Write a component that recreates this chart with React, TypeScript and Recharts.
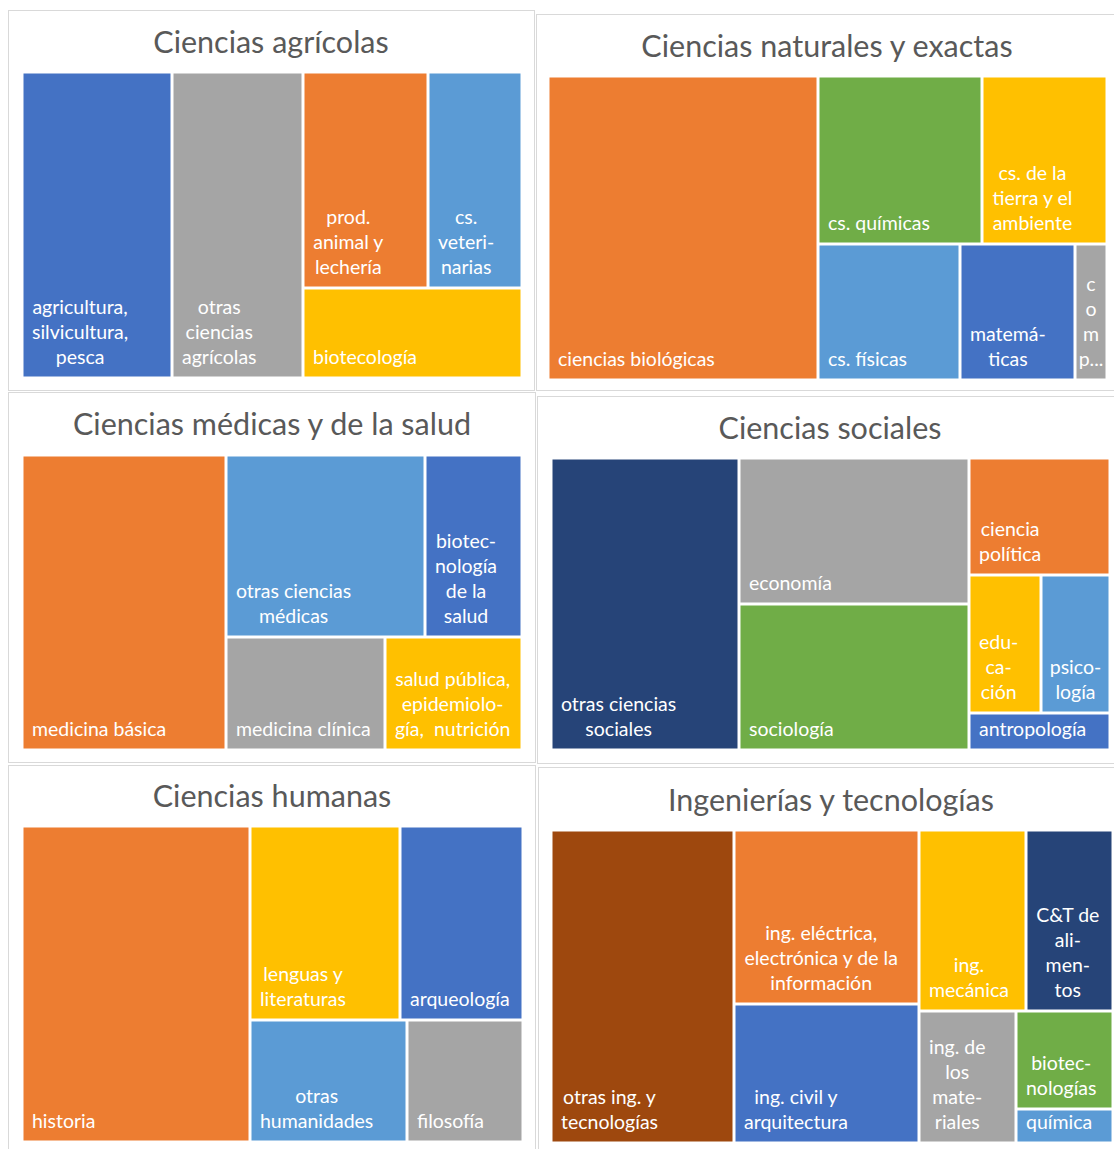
import React from 'react';
import { Treemap } from 'recharts';

type Spec = number | Spec[];

// ---------- Ciencias agrícolas ----------
const agriNames = ['agricultura, silvicultura, pesca', 'otras ciencias agrícolas', 'prod. animal y lechería', 'cs. veterinarias', 'biotecología'];
const agriLabels = [['agricultura,', 'silvicultura,', 'pesca'], ['otras', 'ciencias', 'agrícolas'], ['prod.', 'animal y', 'lechería'], ['cs.', 'veteri-', 'narias'], ['biotecología']];
const agriValues = [453, 394, 266, 199, 194];
const agriColors = ['#4472C4', '#A5A5A5', '#ED7D31', '#5B9BD5', '#FFC000'];
const agriTree: Spec[] = [0, [1, [[2, 3], 4]]];

// ---------- Ciencias naturales y exactas ----------
const natNames = ['ciencias biológicas', 'cs. químicas', 'cs. de la tierra y el ambiente', 'cs. físicas', 'matemáticas', 'computación'];
const natLabels = [['ciencias biológicas'], ['cs. químicas'], ['cs. de la', 'tierra y el', 'ambiente'], ['cs. físicas'], ['matemá-', 'ticas'], ['c', 'o', 'm', 'p...']];
const natValues = [807, 272, 206, 190, 155, 43];
const natColors = ['#ED7D31', '#70AD47', '#FFC000', '#5B9BD5', '#4472C4', '#A5A5A5'];
const natTree: Spec[] = [0, [[1, 2], [3, [4, 5]]]];

// ---------- Ciencias médicas y de la salud ----------
const medNames = ['medicina básica', 'otras ciencias médicas', 'biotecnología de la salud', 'medicina clínica', 'salud pública, epidemiología, nutrición'];
const medLabels = [['medicina básica'], ['otras ciencias', 'médicas'], ['biotec-', 'nología', 'de la', 'salud'], ['medicina clínica'], ['salud pública,', 'epidemiolo-', 'gía,  nutrición']];
const medValues = [592, 356, 174, 176, 152];
const medColors = ['#ED7D31', '#5B9BD5', '#4472C4', '#A5A5A5', '#FFC000'];
const medTree: Spec[] = [0, [[1, 2], [3, 4]]];

// ---------- Ciencias sociales ----------
const socNames = ['otras ciencias sociales', 'economía', 'sociología', 'ciencia política', 'educación', 'psicología', 'antropología'];
const socLabels = [['otras ciencias', 'sociales'], ['economía'], ['sociología'], ['ciencia', 'política'], ['edu-', 'ca-', 'ción'], ['psico-', 'logía'], ['antropología']];
const socValues = [540, 330, 330, 163, 97, 94, 52];
const socColors = ['#264478', '#A5A5A5', '#70AD47', '#ED7D31', '#FFC000', '#5B9BD5', '#4472C4'];
const socTree: Spec[] = [0, [[1, 2], [3, [[4, 5], 6]]]];

// ---------- Ciencias humanas ----------
const humNames = ['historia', 'lenguas y literaturas', 'arqueología', 'otras humanidades', 'filosofía'];
const humLabels = [['historia'], ['lenguas y', 'literaturas'], ['arqueología'], ['otras', 'humanidades'], ['filosofía']];
const humValues = [708, 286, 235, 189, 140];
const humColors = ['#ED7D31', '#FFC000', '#4472C4', '#5B9BD5', '#A5A5A5'];
const humTree: Spec[] = [0, [[1, 2], [3, 4]]];

// ---------- Ingenierías y tecnologías ----------
const ingNames = ['otras ing. y tecnologías', 'ing. eléctrica, electrónica y de la información', 'ing. civil y arquitectura', 'ing. mecánica', 'C&T de alimentos', 'ing. de los materiales', 'biotecnologías', 'química'];
const ingLabels = [['otras ing. y', 'tecnologías'], ['ing. eléctrica,', 'electrónica y de la', 'información'], ['ing. civil y', 'arquitectura'], ['ing.', 'mecánica'], ['C&T de', 'ali-', 'men-', 'tos'], ['ing. de', 'los', 'mate-', 'riales'], ['biotec-', 'nologías'], ['química']];
const ingValues = [564, 317, 254, 191, 155, 126, 94, 33];
const ingColors = ['#9E480E', '#ED7D31', '#4472C4', '#FFC000', '#264478', '#A5A5A5', '#70AD47', '#5B9BD5'];
const ingTree: Spec[] = [0, [[1, 2], [[3, 4], [5, [6, 7]]]]];

const LABEL_FONT = 'Lato';
const LABEL_SIZE = 19.5;
const LINE_H = 25;
const TITLE_SIZE = 30.5;

interface Box { x: number; y: number; w: number; h: number }
interface PanelDef {
  title: string;
  names: string[];
  labels: string[][];
  values: number[];
  colors: string[];
  tree: Spec[];
  ratio: number;
  box: Box;
  map: Box;
  titleX: number;
  titleY: number;
}

const panels: PanelDef[] = [
  { title: 'Ciencias agrícolas', names: agriNames, labels: agriLabels, values: agriValues, colors: agriColors, tree: agriTree, ratio: 0.01,
    box: { x: 8, y: 10, w: 527, h: 381 }, map: { x: 23, y: 73, w: 497, h: 303 }, titleX: 271, titleY: 53 },
  { title: 'Ciencias naturales y exactas', names: natNames, labels: natLabels, values: natValues, colors: natColors, tree: natTree, ratio: 0.01,
    box: { x: 536, y: 14, w: 600, h: 377 }, map: { x: 549, y: 77, w: 556, h: 301 }, titleX: 827, titleY: 57 },
  { title: 'Ciencias médicas y de la salud', names: medNames, labels: medLabels, values: medValues, colors: medColors, tree: medTree, ratio: 1.5,
    box: { x: 8, y: 392, w: 528, h: 371 }, map: { x: 23, y: 456, w: 497, h: 292 }, titleX: 272, titleY: 435 },
  { title: 'Ciencias sociales', names: socNames, labels: socLabels, values: socValues, colors: socColors, tree: socTree, ratio: 0.01,
    box: { x: 537, y: 396, w: 600, h: 368 }, map: { x: 552, y: 459, w: 556, h: 289 }, titleX: 830, titleY: 439 },
  { title: 'Ciencias humanas', names: humNames, labels: humLabels, values: humValues, colors: humColors, tree: humTree, ratio: 0.01,
    box: { x: 8, y: 765, w: 528, h: 400 }, map: { x: 23, y: 827, w: 498, h: 313 }, titleX: 272, titleY: 807 },
  { title: 'Ingenierías y tecnologías', names: ingNames, labels: ingLabels, values: ingValues, colors: ingColors, tree: ingTree, ratio: 0.01,
    box: { x: 538, y: 767, w: 600, h: 400 }, map: { x: 552, y: 831, w: 559, h: 310 }, titleX: 831, titleY: 811 },
];

let measureCtx: CanvasRenderingContext2D | null = null;
function textWidth(t: string, size: number): number {
  if (!measureCtx) {
    const c = document.createElement('canvas');
    measureCtx = c.getContext('2d');
  }
  if (!measureCtx) return t.length * size * 0.5;
  measureCtx.font = `${size}px ${LABEL_FONT}`;
  return measureCtx.measureText(t).width;
}

function buildNode(spec: Spec, p: PanelDef, key: string): any {
  if (typeof spec === 'number') {
    return { name: p.names[spec], value: p.values[spec], idx: spec };
  }
  return { name: key, children: spec.map((s, i) => buildNode(s, p, key + '-' + i)) };
}

function TreemapPanel({ p }: { p: PanelDef }) {
  const data = p.tree.map((s, i) => buildNode(s, p, 'g' + i));
  const renderCell = (props: any) => {
    const { x, y, width, height, name, children } = props;
    const i = typeof props.idx === 'number' ? props.idx : p.names.indexOf(name);
    if (i < 0 || (children && children.length)) return <g />;
    const rx = x + 1.5;
    const ry = y + 1.5;
    const rw = Math.max(0, width - 3);
    const rh = Math.max(0, height - 3);
    const lines = p.labels[i];
    const widths = lines.map((l) => textWidth(l, LABEL_SIZE));
    const bw = Math.max(...widths);
    const left = rx + Math.min(8.5, Math.max(0, (rw - bw) / 2));
    const cx = left + bw / 2;
    const lastBase = ry + rh - 13;
    return (
      <g>
        <rect x={rx} y={ry} width={rw} height={rh} fill={p.colors[i]} />
        {lines.map((l, k) => (
          <text
            key={k}
            x={cx}
            y={lastBase - (lines.length - 1 - k) * LINE_H}
            textAnchor="middle"
            fill="#ffffff"
            fontFamily={LABEL_FONT}
            fontSize={LABEL_SIZE}
            style={{ whiteSpace: 'pre' }}
          >
            {l}
          </text>
        ))}
      </g>
    );
  };
  return (
    <div style={{ position: 'absolute', left: p.map.x - 1.5, top: p.map.y - 1.5 }}>
      <Treemap
        width={p.map.w + 3}
        height={p.map.h + 3}
        data={data}
        dataKey="value"
        nameKey="name"
        aspectRatio={p.ratio}
        isAnimationActive={false}
        content={renderCell}
      />
    </div>
  );
}

export default function App() {
  return (
    <div style={{ position: 'absolute', left: 0, top: 0, width: 1114, height: 1149, overflow: 'hidden', background: '#ffffff' }}>
      {panels.map((p, i) => (
        <div
          key={'b' + i}
          style={{
            position: 'absolute',
            left: p.box.x,
            top: p.box.y,
            width: p.box.w,
            height: p.box.h,
            border: '1px solid #d9d9d9',
            boxSizing: 'border-box',
          }}
        />
      ))}
      <svg width={1114} height={1149} style={{ position: 'absolute', left: 0, top: 0 }}>
        {panels.map((p, i) => (
          <text key={'t' + i} x={p.titleX} y={p.titleY} textAnchor="middle" fill="#595959" fontFamily={LABEL_FONT} fontSize={TITLE_SIZE}>
            {p.title}
          </text>
        ))}
      </svg>
      {panels.map((p, i) => (
        <TreemapPanel key={'m' + i} p={p} />
      ))}
    </div>
  );
}
